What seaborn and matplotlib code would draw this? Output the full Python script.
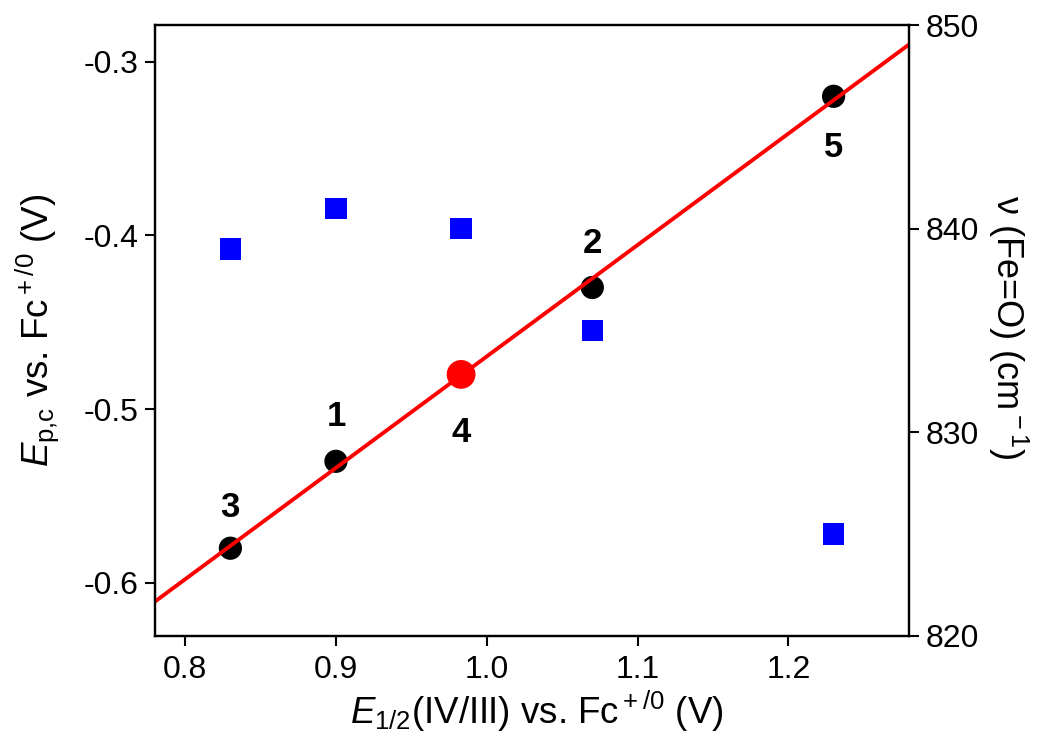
import pandas as pd
import matplotlib.pyplot as plt
import seaborn as sns

# values
e_half = [0.83, 0.90, 0.983, 1.07, 1.23]          # E1/2(IV/III) vs Fc (V)
e_pc = [-0.58, -0.53, -0.48, -0.43, -0.32]         # Ep,c vs Fc (V)
nu_feo = [839, 841, 840, 835, 825]                 # v(Fe=O) (cm-1)
labels = ['3', '1', '4', '2', '5']
label_dy = [29, 32, -42, 32, -37]                  # label offset in points

df = pd.DataFrame({'e_half': e_half, 'e_pc': e_pc, 'nu': nu_feo, 'label': labels})

sns.set_style('ticks')
plt.rcParams['font.family'] = ['Liberation Sans', 'DejaVu Sans']
plt.rcParams['mathtext.fontset'] = 'custom'
plt.rcParams['mathtext.rm'] = 'Liberation Sans'
plt.rcParams['mathtext.it'] = 'Liberation Sans:italic'
plt.rcParams['axes.unicode_minus'] = False
for k in ['text.color', 'axes.labelcolor', 'xtick.color', 'ytick.color', 'axes.edgecolor']:
    plt.rcParams[k] = 'black'

fig = plt.figure(figsize=(10.5, 7.54), dpi=100)
ax = fig.add_axes([0.1476, 0.1565, 0.7181, 0.8103])
ax.set_xlim(0.78, 1.28)
ax.set_ylim(-0.6305, -0.279)

# black points, except compound 4 which is drawn in red
black = df[df['label'] != '4']
red = df[df['label'] == '4']
sns.scatterplot(data=black, x='e_half', y='e_pc', color='black', s=280,
                edgecolor='none', ax=ax, zorder=2)
sns.regplot(data=df, x='e_half', y='e_pc', scatter=False, ci=None, truncate=False,
            color='red', line_kws={'lw': 2.8, 'zorder': 3}, ax=ax)
sns.scatterplot(data=red, x='e_half', y='e_pc', color='red', s=430,
                edgecolor='none', ax=ax, zorder=4)

for x, y, t, dy in zip(e_half, e_pc, labels, label_dy):
    ax.annotate(t, (x, y), xytext=(0, dy), textcoords='offset points',
                ha='center', va='center', fontsize=25, fontweight='bold')

ax.set_xlim(0.78, 1.28)
ax.set_ylim(-0.6305, -0.279)
ax.set_xticks([0.8, 0.9, 1.0, 1.1, 1.2])
ax.set_yticks([-0.6, -0.5, -0.4, -0.3])
ax.set_xlabel(r'$E_{\rm 1/2}$(IV/III) vs. Fc$^{\rm +/0}$ (V)', fontsize=26.5, va='center')
ax.set_ylabel(r'$E_{\rm p{,}c}$ vs. Fc$^{\rm +/0}$ (V)', fontsize=26.5, va='center')
ax.xaxis.set_label_coords(0.507, -0.123)
ax.yaxis.set_label_coords(-0.156, 0.5)

# right axis: Fe=O stretch
ax2 = ax.twinx()
sns.scatterplot(data=df, x='e_half', y='nu', color='#0000ff', marker='s', s=240,
                edgecolor='none', ax=ax2)
ax2.set_ylim(820, 850)
ax2.set_yticks([820, 830, 840, 850])
ax2.set_ylabel(r'ν (Fe=O) (cm$^{\rm -1}$)', fontsize=26, rotation=270, va='center')
ax2.yaxis.set_label_coords(1.131, 0.505)
ax2.set_xlim(0.78, 1.28)

for a in (ax, ax2):
    for sp in a.spines.values():
        sp.set_linewidth(1.6)
        sp.set_visible(True)
    a.tick_params(direction='out', length=7, width=1.5, labelsize=23, pad=5)
ax.tick_params(top=False, right=False)
ax.tick_params(axis='x', pad=7)
ax2.tick_params(left=False, top=False, bottom=False)

fig.savefig('out.png', dpi=100)
